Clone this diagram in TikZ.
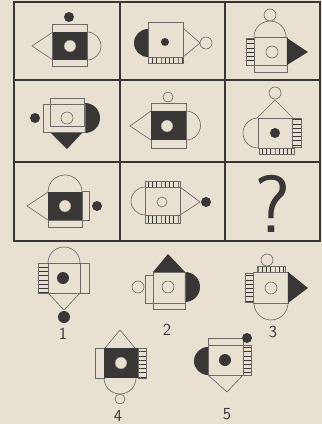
\documentclass[tikz,border=0pt]{standalone}
\usepackage{xcolor}
\usepackage{tikz}
\usetikzlibrary{patterns}
\definecolor{paper}{HTML}{e8e0d2}
\definecolor{ink}{HTML}{3a3636}
\definecolor{inkLight}{HTML}{6e6866}
\newcommand{\hdot}[2]{\fill[blk] (#1) circle[radius=#2];}
\newcommand{\ring}[2]{\draw[ln] (#1) circle[radius=#2];}

\begin{document}
\begin{tikzpicture}[x=0.25mm,y=-0.25mm,
ln/.style={draw=inkLight, line width=0.45pt},
blk/.style={fill=ink},
hole/.style={fill=paper, draw=inkLight, line width=0.3pt},
hatchH/.style={draw=inkLight, line width=0.4pt, pattern=horizontal lines, pattern color=ink},
hatchV/.style={draw=inkLight, line width=0.4pt, pattern=vertical lines, pattern color=ink},
gridline/.style={draw=ink, line width=1.2pt},
lbl/.style={font=\fontsize{12}{12}\sffamily, text=ink}]
\useasboundingbox (0,0) rectangle (322,424);
\fill[paper] (0,0) rectangle (322,424);
% grid of the puzzle
\draw[gridline] (14,2) rectangle (320,241);
\draw[gridline] (120,2) -- (120,241) (225,2) -- (225,241) (14,80) -- (320,80) (14,162) -- (320,162);
% row 1
\draw[ln] (52,24) rectangle (87,66);
\fill[blk] (53,32) rectangle (87,60); \fill[hole] (70,46) circle[radius=6];
\hdot{69,17}{5}
\draw[ln] (53,32) -- (32,46) -- (53,60);
\draw[ln] (87,32) arc[start angle=-90, end angle=90, radius=14];
\fill[blk] (148,57) arc[start angle=90, end angle=270, radius=14] -- cycle;
\draw[ln] (148,22) rectangle (183,57); \draw[hatchV] (148,57) rectangle (183,63);
\hdot{165,42}{4}
\draw[ln] (183,28) -- (200,43) -- (183,57); \ring{206,43}{6}
\draw[ln] (254,37) arc[start angle=180, end angle=360, radius=16]; \ring{270,15}{6}
\draw[ln] (254,37) rectangle (287,65); \draw[ln] (254,65) rectangle (287,72);
\draw[hatchH] (246,38) rectangle (254,65);
\ring{272,52}{6}
\fill[blk] (287,38) -- (308,52) -- (287,65) -- cycle;
% row 2
\hdot{35,118}{5}
\fill[blk] (85,103) arc[start angle=-90, end angle=90, radius=15] -- cycle;
\fill[blk] (50,132) -- (67,149) -- (83,132) -- cycle;
\draw[ln] (50,98) rectangle (84,126); \draw[ln] (43,104) rectangle (85,132);
\ring{67,118}{6}
\ring{168,97}{5}
\draw[ln] (151,103) rectangle (186,148);
\fill[blk] (151,111) rectangle (186,140); \fill[hole] (167,126) circle[radius=6];
\draw[ln] (151,111) -- (130,126) -- (151,140);
\draw[ln] (186,111) arc[start angle=-90, end angle=90, radius=14.5];
\ring{275,93}{6}
\draw[ln] (257,118) -- (275,100) -- (293,118);
\draw[ln] (258,118) rectangle (292,148);
\draw[hatchH] (292,118) rectangle (301,147); \draw[hatchV] (259,148) rectangle (294,154);
\hdot{275,133}{5}
\draw[ln] (258,148) arc[start angle=90, end angle=270, radius=15];
% row 3
\draw[ln] (48,192) arc[start angle=180, end angle=360, radius=17];
\fill[blk] (48,192) rectangle (82,220); \fill[hole] (65,206) circle[radius=6];
\draw[ln] (48,192) -- (27,206) -- (48,220);
\draw[ln] (82,191) rectangle (89,220); \draw[ln] (48,220) rectangle (82,227);
\hdot{97,206}{5}
\draw[ln] (145,215) arc[start angle=90, end angle=270, radius=14];
\draw[ln] (145,187) rectangle (180,215);
\draw[hatchV] (145,181) rectangle (180,187); \draw[hatchV] (145,215) rectangle (180,223);
\ring{162,202}{5}
\draw[ln] (180,187) -- (200,202) -- (180,215); \hdot{206,202}{5}
\node[text=ink, font=\fontsize{58}{58}\sffamily] (query) at (273,204) {?};
% answer figures
\draw[ln] (48,263) arc[start angle=180, end angle=360, radius=16];
\draw[ln] (48,263) rectangle (80,293); \draw[ln] (80,263) rectangle (89,293);
\draw[hatchH] (38,263) rectangle (48,293);
\hdot{63,278}{6}
\draw[ln] (48,293) -- (64,310) -- (80,293); \hdot{64,317}{6}
\node[lbl] (opt1) at (63,334) {1};
\ring{138,287}{6}
\draw[ln] (145,275) rectangle (153,303);
\fill[blk] (153,272) -- (168,254) -- (185,272) -- cycle;
\fill[blk] (185,272) arc[start angle=-90, end angle=90, radius=15] -- cycle;
\draw[ln] (153,272) rectangle (185,303); \draw[ln] (153,303) rectangle (185,309);
\ring{168,287}{6}
\node[lbl] (opt2) at (167,330) {2};
\ring{267,260}{6}
\draw[hatchV] (257,266) rectangle (285,272);
\draw[ln] (253,272) rectangle (288,303);
\draw[hatchH] (245,273) rectangle (253,302);
\ring{271,288}{6}
\fill[blk] (288,272) -- (308,288) -- (288,303) -- cycle;
\draw[ln] (254,303) arc[start angle=180, end angle=0, radius=17];
\node[lbl] (opt3) at (273,332) {3};
\draw[ln] (105,348) -- (120,330) -- (135,348);
\draw[ln] (95,348) rectangle (104,378);
\fill[blk] (104,348) rectangle (138,378); \fill[hole] (121,363) circle[radius=6];
\draw[hatchH] (138,348) rectangle (146,378);
\draw[ln] (104,378) arc[start angle=180, end angle=0, radius=16];
\ring{120,399}{5}
\node[lbl] (opt4) at (118,416) {4};
\fill[blk] (208,375) arc[start angle=90, end angle=270, radius=14] -- cycle;
\draw[ln] (208,338) rectangle (243,345); \draw[ln] (208,345) rectangle (243,375);
\draw[hatchH] (243,345) rectangle (251,375);
\hdot{247,338}{5}
\hdot{225,360}{6}
\draw[ln] (208,375) -- (227,392) -- (243,375);
\node[lbl] (opt5) at (227,414) {5};
\end{tikzpicture}
\end{document}
